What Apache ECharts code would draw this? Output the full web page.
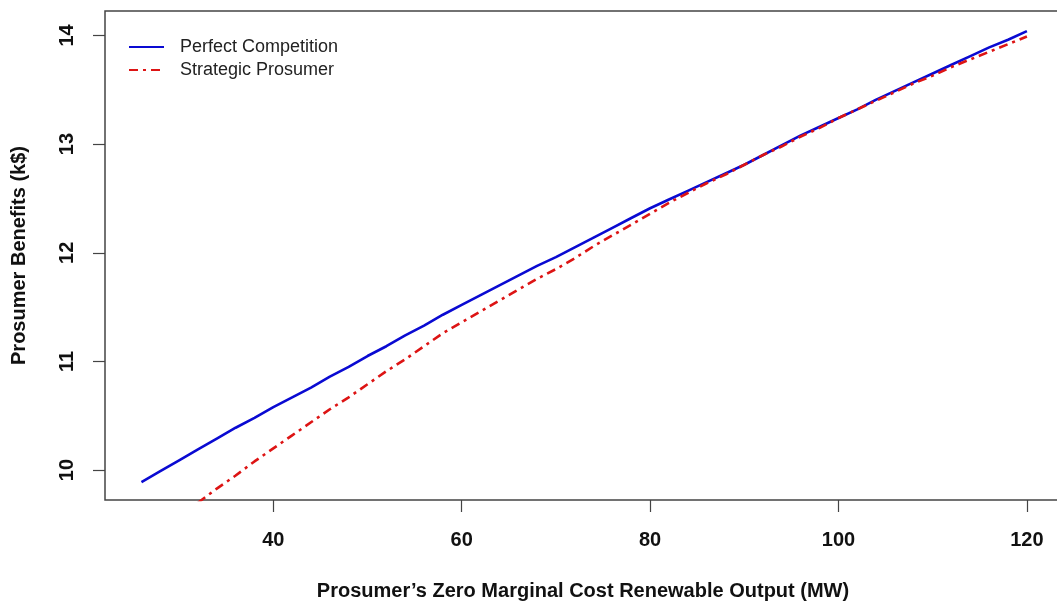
<!DOCTYPE html>
<html>
<head>
<meta charset="utf-8">
<script src="https://cdn.jsdelivr.net/npm/echarts@6/dist/echarts.min.js"></script>
<style>html,body{margin:0;padding:0;background:#fff;}#chart{width:1057px;height:606px;}</style>
</head>
<body>
<div id="chart"></div>
<script>
// Data
const xPerfect = [26,28,30,32,34,36,38,40,42,44,46,48,50,52,54,56,58,60,62,64,66,68,70,72,74,76,78,80,82,84,86,88,90,92,94,96,98,100,102,104,106,108,110,112,114,116,118,120];
const yPerfect = [9.89,9.99,10.09,10.19,10.29,10.39,10.48,10.58,10.67,10.76,10.86,10.95,11.05,11.14,11.24,11.33,11.43,11.52,11.61,11.70,11.79,11.88,11.96,12.05,12.14,12.23,12.32,12.41,12.49,12.57,12.65,12.73,12.81,12.90,12.99,13.08,13.16,13.24,13.32,13.41,13.49,13.57,13.65,13.73,13.81,13.89,13.96,14.04];
const xStrategic = [32,34,36,38,40,42,44,46,48,50,52,54,56,58,60,62,64,66,68,70,72,74,76,78,80,82,84,86,88,90,92,94,96,98,100,102,104,106,108,110,112,114,116,118,120];
const yStrategic = [9.70,9.83,9.95,10.08,10.20,10.32,10.44,10.56,10.67,10.79,10.91,11.02,11.14,11.26,11.36,11.46,11.56,11.66,11.76,11.85,11.95,12.06,12.16,12.26,12.36,12.46,12.55,12.64,12.72,12.81,12.90,12.98,13.07,13.15,13.24,13.32,13.40,13.48,13.56,13.63,13.71,13.78,13.85,13.92,13.99];
const xTicks = [40,60,80,100,120];
const yTicks = [10,11,12,13,14];
const seriesNames = ['Perfect Competition','Strategic Prosumer'];
const xTitle = 'Prosumer\u2019s Zero Marginal Cost Renewable Output (MW)';
const yTitle = 'Prosumer Benefits (k$)';

const pair = (xs, ys) => xs.map((x, i) => [x, ys[i]]);
const font = '"Liberation Sans", Arial, Helvetica, sans-serif';

const chart = echarts.init(document.getElementById('chart'), null, {renderer: 'canvas'});
chart.setOption({
  animation: false,
  backgroundColor: '#ffffff',
  grid: {left: 105, top: 11, width: 956, height: 489, show: true, borderColor: '#444', borderWidth: 1.5, backgroundColor: 'transparent', containLabel: false, outerBoundsMode: 'none'},
  legend: {
    orient: 'vertical', left: 128, top: 38, padding: 0, itemWidth: 35, itemHeight: 14, itemGap: 5,
    data: seriesNames,
    itemStyle: {opacity: 0},
    textStyle: {fontFamily: font, fontSize: 18, color: '#222', padding: [0,0,0,11], lineHeight: 18}
  },
  xAxis: {
    type: 'value', min: 22.13, max: 123.62,
    name: xTitle, nameLocation: 'middle', nameGap: 81,
    nameTextStyle: {fontFamily: font, fontSize: 20, fontWeight: 'bold', color: '#111'},
    axisLine: {show: false},
    axisTick: {show: true, inside: false, length: 12, lineStyle: {color: '#444', width: 1.2}, customValues: xTicks},
    axisLabel: {show: true, margin: 30, fontFamily: font, fontSize: 20, fontWeight: 'bold', color: '#111', customValues: xTicks},
    splitLine: {show: false}
  },
  yAxis: {
    type: 'value', min: 9.725, max: 14.225,
    name: yTitle, nameLocation: 'middle', nameGap: 76, nameRotate: 90,
    nameTextStyle: {fontFamily: font, fontSize: 20, fontWeight: 'bold', color: '#111'},
    axisLine: {show: false},
    axisTick: {show: true, inside: false, length: 12, lineStyle: {color: '#444', width: 1.2}, customValues: yTicks},
    axisLabel: {show: true, rotate: 90, margin: 28, fontFamily: font, fontSize: 20, fontWeight: 'bold', color: '#111', customValues: yTicks},
    splitLine: {show: false}
  },
  series: [
    {
      name: seriesNames[0], type: 'line', data: pair(xPerfect, yPerfect),
      symbol: 'none', showSymbol: false, clip: true,
      lineStyle: {color: '#0a0ad2', width: 2.6}, itemStyle: {color: '#0a0ad2'}
    },
    {
      name: seriesNames[1], type: 'line', data: pair(xStrategic, yStrategic),
      symbol: 'none', showSymbol: false, clip: true,
      lineStyle: {color: '#dd1414', width: 2.6, type: [9, 5, 3, 5], cap: 'butt'}, itemStyle: {color: '#dd1414'}
    }
  ]
});
</script>
</body>
</html>
